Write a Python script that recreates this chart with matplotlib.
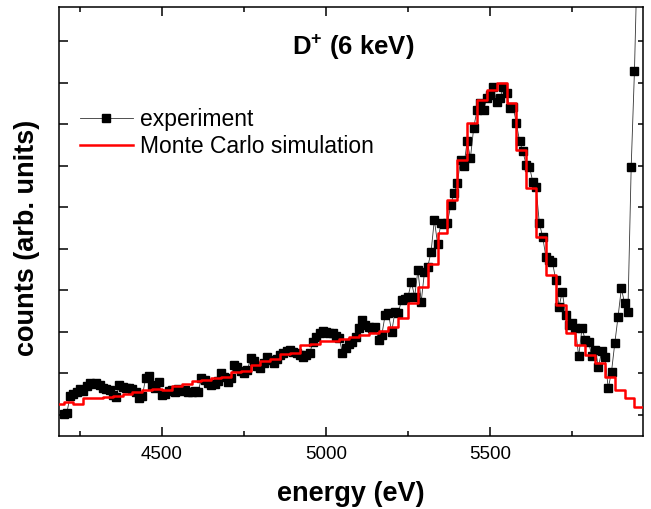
import numpy as np
import matplotlib
matplotlib.use("Agg")
import matplotlib.pyplot as plt
from matplotlib.ticker import MultipleLocator

plt.rcParams['font.family'] = ['Liberation Sans', 'DejaVu Sans']
plt.rcParams['mathtext.fontset'] = 'custom'
plt.rcParams['mathtext.rm'] = 'Liberation Sans'
plt.rcParams['mathtext.bf'] = 'Liberation Sans:bold'

# ---- experiment (10 eV steps starting at 4200 eV) ----
exp_start = 4200
exp_step = 10
exp_counts = [
    0.02, 0.06, 0.45, 0.50, 0.56, 0.62, 0.58, 0.70, 0.76, 0.74,
    0.78, 0.72, 0.66, 0.62, 0.60, 0.48, 0.44, 0.72, 0.68, 0.64,
    0.66, 0.63, 0.55, 0.42, 0.46, 0.88, 0.94, 0.72, 0.66, 0.80,
    0.47, 0.50, 0.58, 0.60, 0.56, 0.62, 0.58, 0.60, 0.55, 0.56,
    0.58, 0.56, 0.88, 0.85, 0.76, 0.72, 0.74, 0.82, 1.00, 0.92,
    0.80, 0.90, 1.20, 1.15, 1.05, 1.00, 1.08, 1.37, 1.30, 1.18,
    1.13, 1.25, 1.40, 1.32, 1.25, 1.35, 1.45, 1.50, 1.55, 1.57,
    1.52, 1.49, 1.45, 1.40, 1.44, 1.49, 1.75, 1.88, 1.98, 2.02,
    2.00, 1.98, 1.97, 1.90, 1.86, 1.49, 1.61, 1.70, 1.77, 1.89,
    2.10, 2.29, 2.17, 2.13, 2.10, 2.13, 1.81, 1.93, 2.41, 2.45,
    2.00, 2.49, 2.45, 2.77, 2.80, 2.85, 3.21, 2.85, 3.49, 2.73,
    3.45, 3.57, 3.93, 4.70, 4.12, 4.63, 4.60, 4.63, 5.06, 5.34,
    5.58, 6.14, 6.00, 6.59, 6.19, 6.92, 7.35, 7.51, 7.35, 7.63,
    7.71, 7.90, 7.55, 7.63, 7.90, 7.75, 7.39, 7.43, 7.03, 6.59,
    6.35, 6.02, 5.98, 5.62, 5.50, 4.62, 4.30, 3.81, 3.73, 3.69,
    3.25, 2.61, 2.97, 2.41, 2.17, 2.21, 2.09, 1.41, 2.09, 1.81,
    1.77, 1.41, 1.57, 1.16, 1.53, 1.40, 0.64, 1.04, 1.73, 2.37,
    3.05, 2.69, 2.49, 5.98, 8.30, 11.5,
]
exp_energy = exp_start + exp_step * np.arange(len(exp_counts))

# ---- Monte Carlo simulation (30 eV bins starting at 4170 eV) ----
sim_start = 4170
sim_bin = 30
sim_counts = [
    0.26, 0.32, 0.26, 0.40, 0.42, 0.44, 0.46, 0.50, 0.56, 0.60,
    0.63, 0.61, 0.70, 0.75, 0.82, 0.84, 0.88, 0.92, 1.03, 1.06,
    1.20, 1.31, 1.35, 1.46, 1.50, 1.69, 1.72, 1.78, 1.78, 1.82,
    1.87, 1.92, 1.97, 2.03, 2.13, 2.33, 2.69, 3.09, 3.65, 4.38,
    5.18, 6.14, 7.03, 7.59, 7.83, 7.99, 7.51, 6.39, 5.46, 4.30,
    3.37, 2.65, 1.97, 1.69, 1.45, 1.25, 0.92, 0.60, 0.40, 0.20,
]
sim_edges = sim_start + sim_bin * np.arange(len(sim_counts) + 1)

x_ticks = [4500, 5000, 5500]
x_tick_labels = ["4500", "5000", "5500"]

fig = plt.figure(figsize=(6.51, 5.09), dpi=100)
ax = fig.add_axes([59/651, 1-436/509, (643-59)/651, (436-7)/509])

ax.plot(exp_energy, exp_counts, color='#333333', lw=0.6, marker='s',
        markersize=6.4, markerfacecolor='black', markeredgecolor='black',
        label='experiment', zorder=2)
ax.step(sim_edges, list(sim_counts) + [sim_counts[-1]], where='post',
        color='#ff0000', lw=1.8, label='Monte Carlo simulation', zorder=3)

ax.set_xlim(4186, 5966)
ax.set_ylim(-0.506, 9.83)

ax.set_xticks(x_ticks)
ax.set_xticklabels(x_tick_labels)
ax.xaxis.set_minor_locator(MultipleLocator(250))
ax.yaxis.set_major_locator(MultipleLocator(1))
ax.yaxis.set_minor_locator(MultipleLocator(1))
ax.yaxis.remove_overlapping_locs = False

ax.tick_params(axis='x', which='major', direction='in', length=6.5, width=1.1,
               top=True, bottom=True, labelsize=13.5, pad=7)
ax.tick_params(axis='x', which='minor', direction='in', length=3.5, width=1.1,
               top=True, bottom=True)
ax.tick_params(axis='y', which='major', direction='in', length=6.5, width=1.1,
               left=True, right=False, labelleft=False)
ax.tick_params(axis='y', which='minor', direction='in', length=3.5, width=1.1,
               left=False, right=True)
for s in ax.spines.values():
    s.set_linewidth(1.1)

ax.set_xlabel('energy (eV)', fontsize=19.5, fontweight='bold', labelpad=13)
ax.set_ylabel('counts (arb. units)', fontsize=19.5, fontweight='bold')
ax.yaxis.set_label_coords(-0.033, 0.462)

ax.text(0.503, 0.905, r'$\mathbf{D^{+}}$ (6 keV)', transform=ax.transAxes,
        ha='center', va='center', fontsize=18.5, fontweight='bold')

leg = ax.legend(loc='upper left', bbox_to_anchor=(0.036, 0.765), frameon=False,
                fontsize=16.5, handlelength=2.3, handletextpad=0.3,
                labelspacing=0.2, borderpad=0, borderaxespad=0, numpoints=1)

fig.savefig('out.png', dpi=100)
